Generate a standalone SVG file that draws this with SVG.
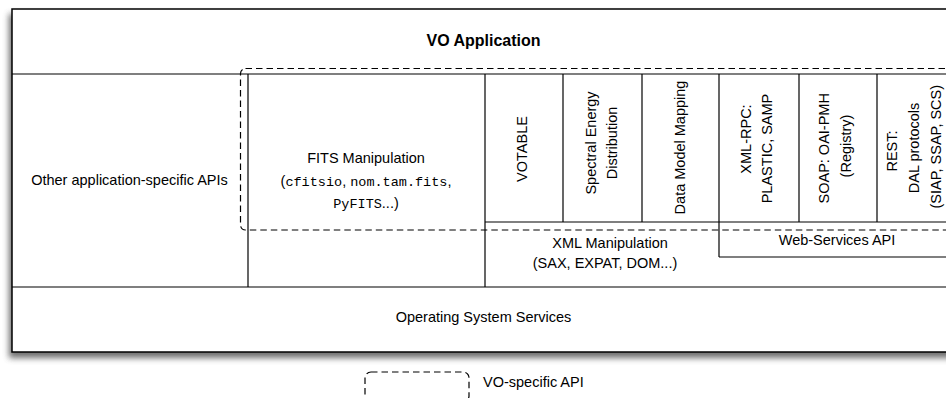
<svg xmlns="http://www.w3.org/2000/svg" width="946" height="398" viewBox="0 0 946 398">
  <defs>
    <filter id="blur" x="-5%" y="-10%" width="110%" height="125%">
      <feGaussianBlur stdDeviation="3"/>
    </filter>
  </defs>
  <style>
    .t { font-family: "Liberation Sans", Arial, sans-serif; font-size: 14.5px; fill: #000; text-anchor: middle; }
    .b { font-weight: bold; font-size: 16px; }
    .m { font-family: "Liberation Mono", "Courier New", monospace; font-size: 13.5px; }
    .ln { stroke: #000; stroke-width: 1.2; fill: none; }
    .outer { stroke: #000; stroke-width: 1.5; fill: #fff; }
    .dash { stroke: #000; stroke-width: 1.2; fill: none; stroke-dasharray: 6.5 4; }
  </style>
  <rect width="946" height="398" fill="#fff"/>

  <!-- shadow -->
  <rect x="9" y="14" width="946" height="344" fill="#555" opacity="0.85" filter="url(#blur)"/>

  <g id="frame">
    <rect class="outer" x="12" y="9" width="943" height="343"/>
  </g>

  <g id="vo-application">
    <text class="t b" x="483.5" y="46">VO Application</text>
    <line class="ln" x1="12" y1="74" x2="955" y2="74"/>
  </g>

  <g id="other-apis">
    <line class="ln" x1="248" y1="74" x2="248" y2="287"/>
    <text class="t" x="129.5" y="185">Other application-specific APIs</text>
  </g>

  <g id="fits">
    <line class="ln" x1="485" y1="74" x2="485" y2="287"/>
    <text class="t" x="366" y="163">FITS Manipulation</text>
    <text class="t" x="366" y="186">(<tspan class="m">cfitsio</tspan>, <tspan class="m">nom.tam.fits</tspan>,</text>
    <text class="t" x="366" y="208"><tspan class="m">PyFITS</tspan>...)</text>
  </g>

  <g id="votable">
    <line class="ln" x1="563" y1="74" x2="563" y2="222"/>
    <text class="t" transform="translate(527,149) rotate(-90)">VOTABLE</text>
  </g>

  <g id="sed">
    <line class="ln" x1="642" y1="74" x2="642" y2="222"/>
    <text class="t" transform="translate(596,143) rotate(-90)">Spectral Energy</text>
    <text class="t" transform="translate(617,143) rotate(-90)">Distribution</text>
  </g>

  <g id="data-model-mapping">
    <line class="ln" x1="719" y1="74" x2="719" y2="257"/>
    <text class="t" transform="translate(685,147.5) rotate(-90)">Data Model Mapping</text>
  </g>

  <g id="xml-rpc">
    <line class="ln" x1="799" y1="74" x2="799" y2="222"/>
    <text class="t" transform="translate(751,139) rotate(-90)">XML-RPC:</text>
    <text class="t" transform="translate(772,148.5) rotate(-90)">PLASTIC, SAMP</text>
  </g>

  <g id="soap">
    <line class="ln" x1="877" y1="74" x2="877" y2="222"/>
    <text class="t" transform="translate(829,148.3) rotate(-90)">SOAP: OAI-PMH</text>
    <text class="t" transform="translate(851,146) rotate(-90)">(Registry)</text>
  </g>

  <g id="rest">
    <text class="t" transform="translate(897,151) rotate(-90)">REST:</text>
    <text class="t" transform="translate(919,148) rotate(-90)">DAL protocols</text>
    <text class="t" transform="translate(941,146.7) rotate(-90)">(SIAP, SSAP, SCS)</text>
  </g>

  <g id="xml-manipulation">
    <line class="ln" x1="485" y1="222" x2="955" y2="222"/>
    <text class="t" x="610" y="248">XML Manipulation</text>
    <text class="t" x="605" y="268">(SAX, EXPAT, DOM...)</text>
  </g>

  <g id="web-services">
    <line class="ln" x1="719" y1="257" x2="955" y2="257"/>
    <text class="t" x="837" y="245">Web-Services API</text>
  </g>

  <g id="os-services">
    <line class="ln" x1="12" y1="287" x2="955" y2="287"/>
    <text class="t" x="483.5" y="322">Operating System Services</text>
  </g>

  <g id="vo-specific-region">
    <rect class="dash" x="240.5" y="68.5" width="730" height="161.5" rx="5"/>
  </g>

  <g id="legend">
    <rect class="dash" x="365" y="372" width="104" height="30" rx="6"/>
    <text class="t" x="483" y="387" style="text-anchor:start">VO-specific API</text>
  </g>

  <g id="connectors"/>
</svg>
